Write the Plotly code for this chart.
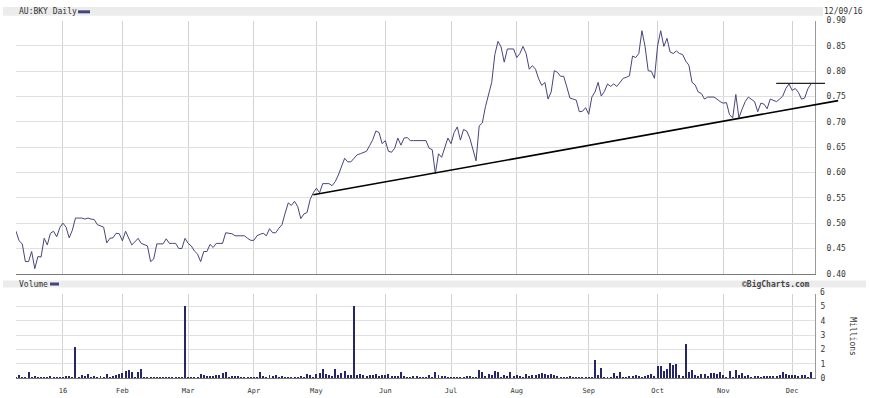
import numpy as np
import pandas as pd
import plotly.graph_objects as go

# ---------------- data ----------------
holidays = ["2015-12-25", "2015-12-28", "2016-01-01", "2016-01-26",
            "2016-03-25", "2016-03-28", "2016-04-25", "2016-06-13"]
dates = pd.bdate_range("2015-12-09", "2016-12-09")
dates = dates[~dates.isin(pd.to_datetime(holidays))]

price = [
    0.484, 0.465, 0.459, 0.424, 0.424, 0.444, 0.410, 0.434, 0.433, 0.470,
    0.457, 0.480, 0.484, 0.473, 0.491, 0.500, 0.492, 0.471, 0.486, 0.510,
    0.510, 0.510, 0.508, 0.510, 0.508, 0.507, 0.497, 0.495, 0.492, 0.461,
    0.470, 0.471, 0.480, 0.479, 0.465, 0.484, 0.472, 0.457, 0.463, 0.470,
    0.460, 0.457, 0.455, 0.424, 0.429, 0.459, 0.459, 0.459, 0.469, 0.460,
    0.460, 0.460, 0.450, 0.450, 0.470, 0.460, 0.455, 0.445, 0.439, 0.424,
    0.444, 0.444, 0.458, 0.452, 0.460, 0.460, 0.460, 0.481, 0.480, 0.479,
    0.475, 0.475, 0.475, 0.475, 0.470, 0.466, 0.466, 0.475, 0.478, 0.480,
    0.475, 0.489, 0.481, 0.481, 0.490, 0.497, 0.520, 0.540, 0.535, 0.543,
    0.533, 0.509, 0.518, 0.521, 0.547, 0.560, 0.569, 0.560, 0.578, 0.578,
    0.578, 0.574, 0.582, 0.595, 0.611, 0.628, 0.621, 0.621, 0.628, 0.635,
    0.637, 0.640, 0.642, 0.653, 0.665, 0.682, 0.679, 0.657, 0.663, 0.642,
    0.640, 0.648, 0.668, 0.654, 0.668, 0.669, 0.663, 0.663, 0.663, 0.662,
    0.663, 0.663, 0.648, 0.645, 0.598, 0.637, 0.630, 0.647, 0.668, 0.657,
    0.679, 0.690, 0.664, 0.685, 0.682, 0.668, 0.643, 0.623, 0.692, 0.698,
    0.730, 0.756, 0.778, 0.833, 0.859, 0.848, 0.818, 0.844, 0.844, 0.844,
    0.827, 0.835, 0.849, 0.835, 0.804, 0.811, 0.804, 0.785, 0.772, 0.778,
    0.745, 0.759, 0.801, 0.798, 0.790, 0.790, 0.769, 0.747, 0.745, 0.743,
    0.720, 0.721, 0.728, 0.715, 0.749, 0.759, 0.778, 0.751, 0.760, 0.775,
    0.770, 0.775, 0.770, 0.777, 0.786, 0.788, 0.791, 0.830, 0.827, 0.835,
    0.880, 0.849, 0.801, 0.800, 0.786, 0.850, 0.880, 0.849, 0.865, 0.838,
    0.835, 0.840, 0.835, 0.833, 0.820, 0.812, 0.778, 0.773, 0.759, 0.756,
    0.745, 0.749, 0.749, 0.749, 0.745, 0.740, 0.737, 0.738, 0.714, 0.708,
    0.754, 0.708, 0.725, 0.740, 0.749, 0.745, 0.740, 0.720, 0.737, 0.735,
    0.726, 0.745, 0.743, 0.740, 0.745, 0.751, 0.766, 0.775, 0.762, 0.766,
    0.758, 0.745, 0.747, 0.765, 0.775,
]

volume_m = [
    0.03, 0.18, 0.07, 0.03, 0.41, 0.03, 0.11, 0.02, 0.03, 0.02,
    0.09, 0.11, 0.07, 0.02, 0.03, 0.02, 0.11, 0.11, 0.07, 2.16,
    0.03, 0.18, 0.11, 0.25, 0.03, 0.11, 0.09, 0.11, 0.09, 0.30,
    0.03, 0.11, 0.18, 0.30, 0.34, 0.48, 0.57, 0.41, 0.03, 0.45,
    0.64, 0.03, 0.07, 0.07, 0.07, 0.07, 0.03, 0.07, 0.02, 0.02,
    0.03, 0.09, 0.07, 0.02, 5.00, 0.07, 0.07, 0.02, 0.03, 0.30,
    0.18, 0.11, 0.11, 0.14, 0.18, 0.23, 0.34, 0.45, 0.03, 0.11,
    0.11, 0.14, 0.09, 0.03, 0.09, 0.02, 0.03, 0.02, 0.45, 0.11,
    0.09, 0.18, 0.14, 0.20, 0.03, 0.11, 0.09, 0.09, 0.02, 0.03,
    0.09, 0.11, 0.03, 0.25, 0.18, 0.03, 0.30, 0.34, 0.64, 0.30,
    0.23, 0.14, 0.64, 0.18, 0.34, 0.50, 0.18, 0.18, 5.00, 0.18,
    0.30, 0.23, 0.14, 0.18, 0.18, 0.30, 0.14, 0.18, 0.18, 0.25,
    0.14, 0.14, 0.14, 0.45, 0.14, 0.03, 0.02, 0.11, 0.11, 0.03,
    0.02, 0.09, 0.18, 0.03, 0.45, 0.18, 0.14, 0.11, 0.07, 0.03,
    0.02, 0.07, 0.03, 0.02, 0.12, 0.12, 0.03, 0.02, 0.53, 0.42,
    0.12, 0.28, 0.19, 0.50, 0.42, 0.03, 0.19, 0.14, 0.42, 0.12,
    0.19, 0.14, 0.03, 0.30, 0.14, 0.19, 0.19, 0.28, 0.35, 0.30,
    0.19, 0.30, 0.19, 0.14, 0.09, 0.07, 0.03, 0.12, 0.09, 0.09,
    0.02, 0.07, 0.02, 0.03, 0.09, 1.23, 0.19, 0.72, 0.03, 0.09,
    0.07, 0.37, 0.12, 0.42, 0.07, 0.02, 0.12, 0.12, 0.23, 0.14,
    0.03, 0.12, 0.19, 0.28, 0.12, 0.81, 0.81, 0.50, 0.65, 1.02,
    0.88, 0.95, 0.19, 0.12, 2.35, 0.42, 0.53, 0.19, 0.12, 0.28,
    0.28, 0.12, 0.37, 0.37, 0.30, 0.42, 0.19, 0.03, 0.49, 0.09,
    0.53, 0.19, 0.35, 0.12, 0.19, 0.03, 0.12, 0.14, 0.03, 0.14,
    0.14, 0.14, 0.14, 0.14, 0.19, 0.42, 0.26, 0.23, 0.23, 0.19,
    0.14, 0.23, 0.19, 0.03, 0.42,
]

month_labels = ["16", "Feb", "Mar", "Apr", "May", "Jun", "Jul", "Aug",
                "Sep", "Oct", "Nov", "Dec"]
price_ticks = [0.40, 0.45, 0.50, 0.55, 0.60, 0.65, 0.70, 0.75, 0.80, 0.85, 0.90]
volume_ticks = [0, 1, 2, 3, 4, 5]

# support trend line (trading-day index, price) and resistance line
trend_x = [95.0, 262.7]
trend_y = [0.556, 0.742]
resist_x = [242.9, 258.5]
resist_y = [0.776, 0.776]

# ---------------- geometry ----------------
W, H = 869, 398
n = min(len(dates), len(price), len(volume_m))
x = np.arange(n)
month_starts = []
seen = set()
for i, d in enumerate(dates[:n]):
    key = (d.year, d.month)
    if d.year == 2016 and key not in seen:
        seen.add(key)
        month_starts.append(i)

XR = [0.0, 255.3]
YR = [0.40, 0.90]
VR = [0.0, 5.86]
xdom = [16 / W, 815 / W]
ydom = [1 - 276 / H, 1 - 17 / H]
vdom = [1 - 383 / H, 1 - 297 / H]


def to_paper_x(v):
    return xdom[0] + (v - XR[0]) / (XR[1] - XR[0]) * (xdom[1] - xdom[0])


def to_paper_y(v):
    return ydom[0] + (v - YR[0]) / (YR[1] - YR[0]) * (ydom[1] - ydom[0])


NAVY = "#45457e"
BAR = "#25256a"
FONT = "DejaVu Sans Mono"

fig = go.Figure()
fig.add_trace(go.Scatter(x=x, y=price[:n], mode="lines",
                         line=dict(color=NAVY, width=1),
                         xaxis="x", yaxis="y", hoverinfo="skip"))
fig.add_trace(go.Bar(x=x, y=volume_m[:n], width=0.32,
                     marker=dict(color=BAR, line=dict(width=0)),
                     xaxis="x2", yaxis="y2", hoverinfo="skip"))

grid_h = "#e0e0e0"
grid_v = "#d2d2d2"

fig.update_layout(
    width=W, height=H,
    margin=dict(l=0, r=0, t=0, b=0),
    paper_bgcolor="white", plot_bgcolor="white",
    showlegend=False,
    bargap=0,
    xaxis=dict(domain=xdom, range=XR, tickvals=month_starts,
               showticklabels=False, ticks="", showgrid=True,
               gridcolor=grid_v, gridwidth=1, zeroline=False,
               showline=True, linecolor="#7a7a7a", linewidth=1,
               anchor="y"),
    yaxis=dict(domain=ydom, range=YR, tickvals=price_ticks,
               tickformat=".2f", side="right", showgrid=True,
               gridcolor=grid_h, gridwidth=1, zeroline=False,
               showline=True, linecolor="#9a9a9a", linewidth=1,
               ticks="", ticklabelstandoff=9,
               tickfont=dict(family=FONT, size=8, color="#333333"),
               anchor="x"),
    xaxis2=dict(domain=xdom, range=XR, tickvals=month_starts,
                ticktext=month_labels[:len(month_starts)],
                showticklabels=True, ticks="", showgrid=True,
                gridcolor=grid_v, gridwidth=1, zeroline=False,
                showline=True, linecolor="#7a7a7a", linewidth=1,
                ticklabelstandoff=5,
                tickfont=dict(family=FONT, size=7, color="#333333"),
                anchor="y2"),
    yaxis2=dict(domain=vdom, range=VR, tickvals=volume_ticks,
                side="right", showgrid=True, gridcolor=grid_h,
                gridwidth=1, zeroline=False, showline=True,
                linecolor="#9a9a9a", linewidth=1, ticks="",
                ticklabelstandoff=3,
                tickfont=dict(family=FONT, size=8, color="#333333"),
                anchor="x2"),
)

shapes = [
    # header bands
    dict(type="rect", xref="paper", yref="paper", x0=3 / W, x1=823 / W,
         y0=1 - 12 / H, y1=1 - 3 / H, fillcolor="#ececec",
         line=dict(width=0), layer="below"),
    dict(type="rect", xref="paper", yref="paper", x0=3 / W, x1=866 / W,
         y0=1 - 290 / H, y1=1 - 283 / H, fillcolor="#ececec",
         line=dict(width=0), layer="below"),
    # legend swatches
    dict(type="line", xref="paper", yref="paper", x0=78 / W, x1=90 / W,
         y0=1 - 8 / H, y1=1 - 8 / H, line=dict(color=NAVY, width=3)),
    dict(type="line", xref="paper", yref="paper", x0=50 / W, x1=59 / W,
         y0=1 - 286.5 / H, y1=1 - 286.5 / H, line=dict(color=NAVY, width=3)),
    # trend line and resistance line (data mapped to paper so they may overhang)
    dict(type="line", xref="paper", yref="paper",
         x0=to_paper_x(trend_x[0]), x1=to_paper_x(trend_x[1]),
         y0=to_paper_y(trend_y[0]), y1=to_paper_y(trend_y[1]),
         line=dict(color="black", width=1.6)),
    dict(type="line", xref="paper", yref="paper",
         x0=to_paper_x(resist_x[0]), x1=to_paper_x(resist_x[1]),
         y0=to_paper_y(resist_y[0]), y1=to_paper_y(resist_y[1]),
         line=dict(color="#222222", width=1.3)),
]
fig.update_layout(shapes=shapes)

annos = [
    dict(text="AU:BKY Daily", x=17 / W, y=1 - 7.5 / H, xref="paper",
         yref="paper", xanchor="left", yanchor="middle", showarrow=False,
         font=dict(family=FONT, size=8, color="#333333")),
    dict(text="12/09/16", x=865 / W, y=1 - 7.5 / H, xref="paper",
         yref="paper", xanchor="right", yanchor="middle", showarrow=False,
         font=dict(family=FONT, size=8, color="#333333")),
    dict(text="Volume", x=17 / W, y=1 - 286.5 / H, xref="paper",
         yref="paper", xanchor="left", yanchor="middle", showarrow=False,
         font=dict(family=FONT, size=8, color="#333333")),
    dict(text="<b>©BigCharts.com</b>", x=812 / W, y=1 - 286.5 / H,
         xref="paper", yref="paper", xanchor="right", yanchor="middle",
         showarrow=False, font=dict(family=FONT, size=8, color="#444444")),
    dict(text="6", x=818 / W, y=1 - 295 / H, xref="paper", yref="paper",
         xanchor="left", yanchor="middle", showarrow=False,
         font=dict(family=FONT, size=8, color="#333333")),
    dict(text="Millions", x=853 / W, y=1 - 340 / H, xref="paper",
         yref="paper", xanchor="center", yanchor="middle", textangle=90,
         showarrow=False, font=dict(family=FONT, size=8, color="#333333")),
]
fig.update_layout(annotations=annos)

fig.write_html("out.html")
